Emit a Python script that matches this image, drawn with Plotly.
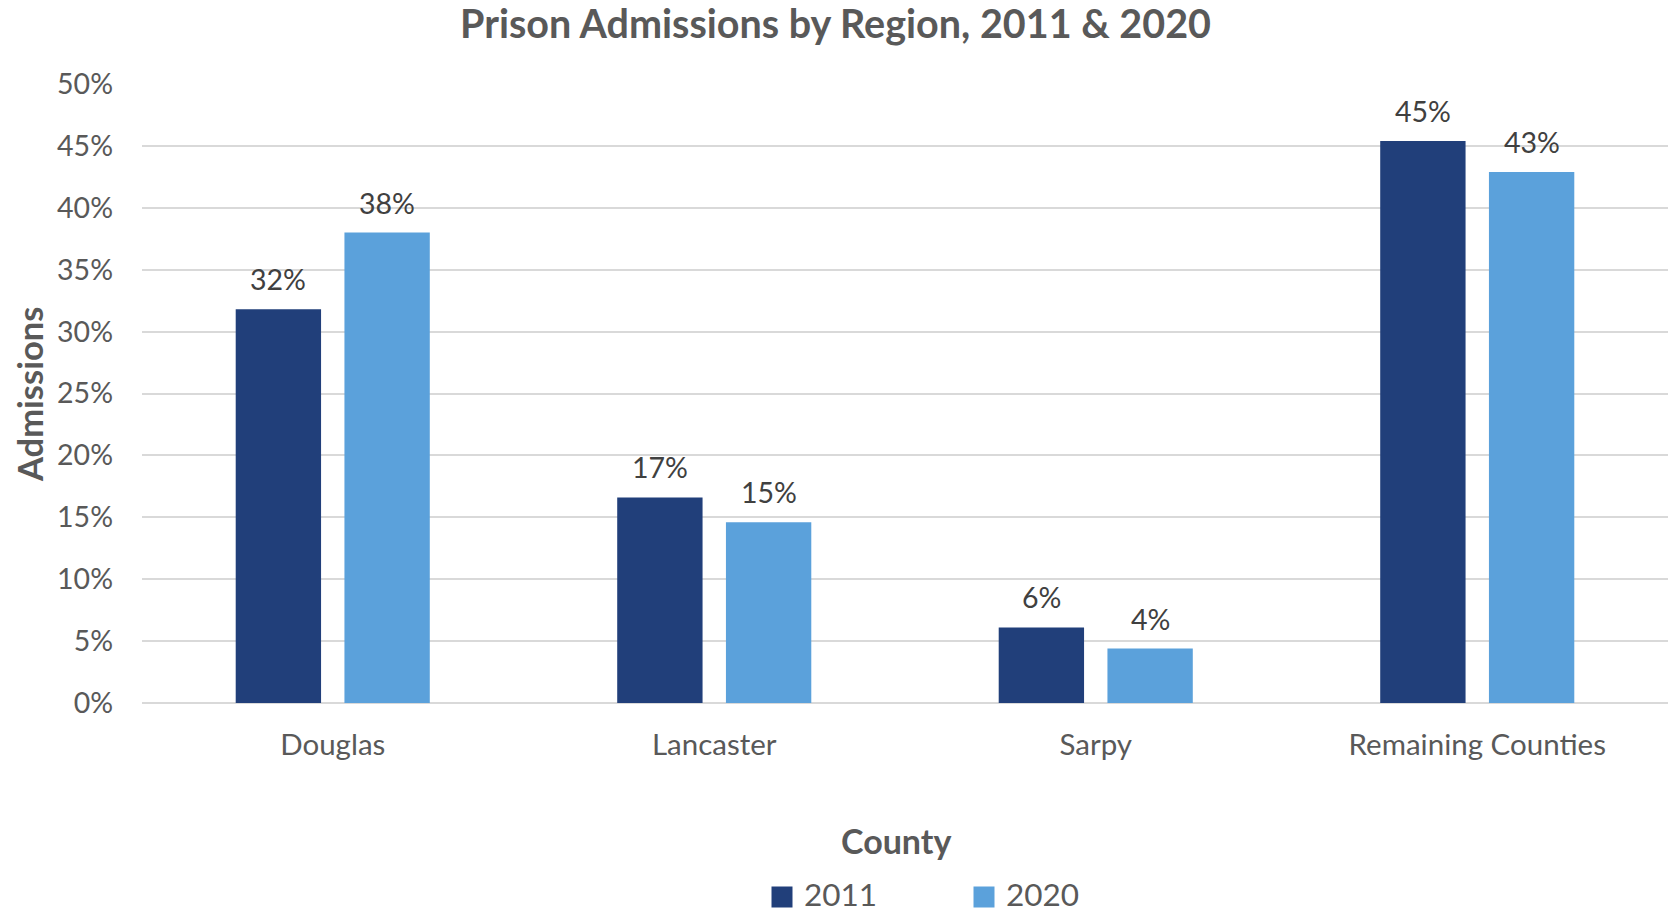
import plotly.graph_objects as go

# Share of prison admissions by county, 2011 vs 2020
counties = ["Douglas", "Lancaster", "Sarpy", "Remaining Counties"]
years = ["2011", "2020"]
share_2011 = [0.318, 0.166, 0.061, 0.454]
share_2020 = [0.380, 0.146, 0.044, 0.429]
y_ticks = [0, 0.05, 0.10, 0.15, 0.20, 0.25, 0.30, 0.35, 0.40, 0.45, 0.50]

colors = {"2011": "#213F7A", "2020": "#5BA1DB"}
series = {"2011": share_2011, "2020": share_2020}

FONT = "Lato"
W, H = 1671, 912
M_L, M_R, M_T, M_B = 142, 3, 84, 209
plot_w = W - M_L - M_R
plot_h = H - M_T - M_B

fig = go.Figure()
for yr in years:
    fig.add_trace(go.Bar(
        x=counties, y=series[yr], name=yr,
        marker=dict(color=colors[yr], line=dict(width=0)),
        showlegend=False, hoverinfo="x+y",
    ))

# value labels above each bar (offset to each bar's slot in the group)
slot_px = plot_w / len(counties) * (1 - 0.43) / 2
annotations = []
for i, yr in enumerate(years):
    shift = (i - 0.5) * slot_px
    for c, v in zip(counties, series[yr]):
        annotations.append(dict(
            x=c, y=v, xref="x", yref="y", text=f"{v:.0%}", showarrow=False,
            xshift=shift, yshift=30, yanchor="middle",
            font=dict(family=FONT, size=28.5, color="#404040"),
        ))

def px_x(px):
    return (px - M_L) / plot_w

def px_y(px):
    return (H - M_B - px) / plot_h

# axis titles
annotations.append(dict(
    text="<b>County</b>", x=px_x(896), y=px_y(840), xref="paper", yref="paper",
    showarrow=False, xanchor="center", yanchor="middle",
    font=dict(family=FONT, size=34, color="#595959"),
))
annotations.append(dict(
    text="<b>Admissions</b>", x=px_x(29), y=px_y(395), xref="paper", yref="paper",
    showarrow=False, xanchor="center", yanchor="middle", textangle=-90,
    font=dict(family=FONT, size=34.5, color="#595959"),
))

# legend: swatch + label per year
shapes = []
legend_pos = {"2011": (782, 802), "2020": (984, 1004)}
for yr in years:
    sx, tx = legend_pos[yr]
    shapes.append(dict(
        type="rect", xref="paper", yref="paper",
        xsizemode="pixel", ysizemode="pixel",
        xanchor=px_x(sx), yanchor=px_y(897),
        x0=-10.5, x1=10.5, y0=-10.5, y1=10.5,
        fillcolor=colors[yr], line=dict(width=0),
    ))
    annotations.append(dict(
        text=yr, x=px_x(tx), y=px_y(894), xref="paper", yref="paper",
        showarrow=False, xanchor="left", yanchor="middle",
        font=dict(family=FONT, size=31.5, color="#595959"),
    ))

fig.update_layout(
    width=W, height=H,
    margin=dict(l=M_L, r=M_R, t=M_T, b=M_B, autoexpand=False),
    paper_bgcolor="white", plot_bgcolor="white",
    barmode="group", bargap=0.43, bargroupgap=0.215,
    title=dict(
        text="<b>Prison Admissions by Region, 2011 &amp; 2020</b>",
        x=0.5, xref="container", xanchor="center",
        y=1 - 24 / H, yref="container", yanchor="middle",
        font=dict(family=FONT, size=39.5, color="#595959"),
    ),
    xaxis=dict(
        showgrid=False, showline=False, ticks="", ticklabelstandoff=21,
        tickfont=dict(family=FONT, size=29.5, color="#595959"),
    ),
    yaxis=dict(
        range=[0, 0.5], tickvals=y_ticks, tickformat=".0%",
        showgrid=True, gridcolor="#D9D9D9", gridwidth=2,
        zeroline=True, zerolinecolor="#D9D9D9", zerolinewidth=2,
        showline=False, ticks="", ticklabelstandoff=28,
        tickfont=dict(family=FONT, size=28.5, color="#595959"),
    ),
    annotations=annotations,
    shapes=shapes,
    showlegend=False,
)

fig.write_html("out.html")
